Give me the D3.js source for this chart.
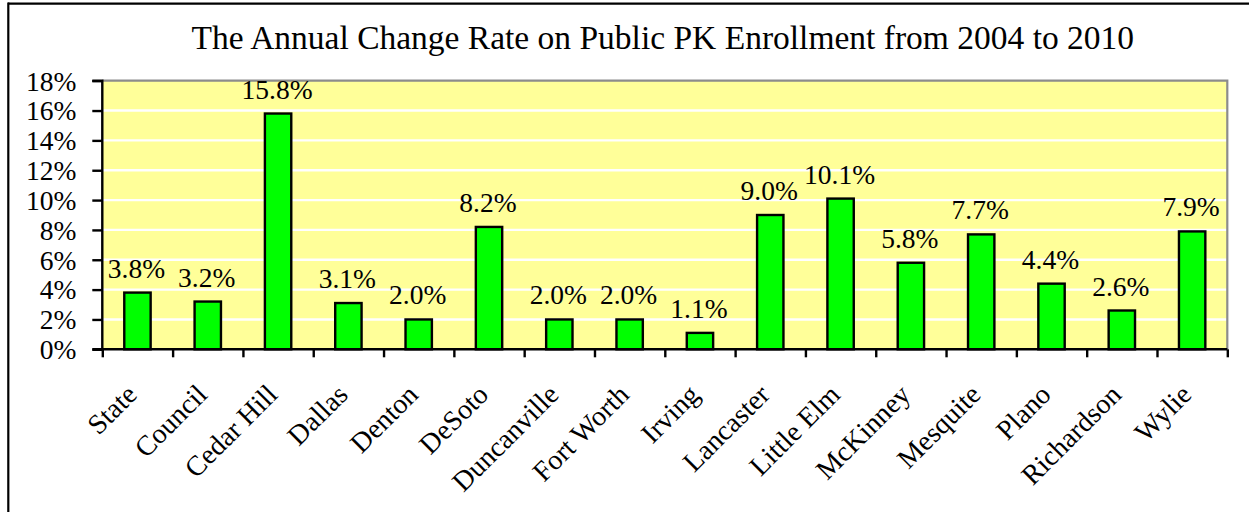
<!DOCTYPE html>
<html>
<head>
<meta charset="utf-8">
<script src="https://cdn.jsdelivr.net/npm/d3@7"></script>
<style>
  html, body { margin: 0; padding: 0; background: #fff; }
  svg { display: block; }
  text { font-family: "Liberation Serif", "Times New Roman", serif; fill: #000; }
</style>
</head>
<body>
<svg id="chart" width="1249" height="512"></svg>
<script>
const title = "The Annual Change Rate on Public PK Enrollment from 2004 to 2010";
const categories = ["State", "Council", "Cedar Hill", "Dallas", "Denton", "DeSoto", "Duncanville", "Fort Worth", "Irving", "Lancaster", "Little Elm", "McKinney", "Mesquite", "Plano", "Richardson", "Wylie"];
const values = [3.8, 3.2, 15.8, 3.1, 2.0, 8.2, 2.0, 2.0, 1.1, 9.0, 10.1, 5.8, 7.7, 4.4, 2.6, 7.9];
const valueLabels = ["3.8%", "3.2%", "15.8%", "3.1%", "2.0%", "8.2%", "2.0%", "2.0%", "1.1%", "9.0%", "10.1%", "5.8%", "7.7%", "4.4%", "2.6%", "7.9%"];
const yTicks = [0, 2, 4, 6, 8, 10, 12, 14, 16, 18];
const yTickLabels = ["0%", "2%", "4%", "6%", "8%", "10%", "12%", "14%", "16%", "18%"];

const svg = d3.select("#chart");
const W = 1249, H = 512;
const plot = { left: 102.3, right: 1227.3, top: 80.7, bottom: 349.3 };
const FONT = "Liberation Serif";
const LABEL_SIZE = 27.5;

// outer frame (top and left edges visible)
svg.append("line").attr("x1", 8).attr("x2", W).attr("y1", 3.7).attr("y2", 3.7)
  .attr("stroke", "#000").attr("stroke-width", 2.2);
svg.append("line").attr("x1", 8.3).attr("x2", 8.3).attr("y1", 2.6).attr("y2", H)
  .attr("stroke", "#000").attr("stroke-width", 2.2);

const x = d3.scaleBand().domain(categories).range([plot.left, plot.right]).padding(0);
const y = d3.scaleLinear().domain([0, 18]).range([plot.bottom, plot.top]);

// plot background
svg.append("rect")
  .attr("x", plot.left).attr("y", plot.top)
  .attr("width", plot.right - plot.left).attr("height", plot.bottom - plot.top)
  .attr("fill", "#FFFF99");

// gridlines
svg.append("g").selectAll("line")
  .data(yTicks.filter(t => t > 0 && t < 18))
  .join("line")
  .attr("x1", plot.left).attr("x2", plot.right)
  .attr("y1", d => y(d)).attr("y2", d => y(d))
  .attr("stroke", "#fff").attr("stroke-width", 2.4);

// plot border top & right (gray)
svg.append("path")
  .attr("d", `M${plot.left},${plot.top}H${plot.right}V${plot.bottom}`)
  .attr("fill", "none").attr("stroke", "#8c8c8c").attr("stroke-width", 2.2);

// bars
const barW = x.bandwidth() * 0.375;
svg.append("g").selectAll("rect")
  .data(values)
  .join("rect")
  .attr("x", (d, i) => x(categories[i]) + x.bandwidth() / 2 - barW / 2)
  .attr("y", d => y(d))
  .attr("width", barW)
  .attr("height", d => y(0) - y(d))
  .attr("fill", "#00FF00")
  .attr("stroke", "#000")
  .attr("stroke-width", 2.4);

// value labels
svg.append("g").selectAll("text")
  .data(values)
  .join("text")
  .attr("x", (d, i) => x(categories[i]) + x.bandwidth() / 2 - 1)
  .attr("y", d => y(d) - 15)
  .attr("text-anchor", "middle")
  .attr("font-family", FONT)
  .attr("font-size", LABEL_SIZE)
  .text((d, i) => valueLabels[i]);

// y axis
const yAxis = d3.axisLeft(y).tickValues(yTicks)
  .tickFormat((d, i) => yTickLabels[i]).tickSize(10).tickPadding(16);
const gy = svg.append("g").attr("transform", `translate(${plot.left},0)`).call(yAxis);
gy.attr("font-family", FONT);
gy.select(".domain").attr("stroke", "#000").attr("stroke-width", 2.4).attr("d", `M-10,${plot.top}H0V${plot.bottom}H-10`);
gy.selectAll(".tick line").attr("stroke", "#000").attr("stroke-width", 2.4);
gy.selectAll(".tick text").attr("font-size", LABEL_SIZE).attr("font-family", FONT).attr("fill", "#000").attr("dy", "0.34em");

// x axis with ticks at band edges
const xEdge = d3.scaleLinear().domain([0, categories.length]).range([plot.left, plot.right]);
const xAxis = d3.axisBottom(xEdge).tickValues(d3.range(categories.length + 1)).tickSize(8).tickFormat("");
const gx = svg.append("g").attr("transform", `translate(0,${plot.bottom})`).call(xAxis);
gx.select(".domain").attr("stroke", "#000").attr("stroke-width", 2.4).attr("d", `M${plot.left},0H${plot.right}`);
gx.selectAll(".tick line").attr("stroke", "#000").attr("stroke-width", 2.4);

// category labels
svg.append("g").selectAll("text")
  .data(categories)
  .join("text")
  .attr("transform", d => `translate(${x(d) + x.bandwidth() / 2 + 1},${plot.bottom + 47}) rotate(-45)`)
  .attr("text-anchor", "end")
  .attr("font-family", FONT)
  .attr("font-size", 28)
  .text(d => d);

// title
svg.append("text")
  .attr("x", (plot.left + plot.right) / 2 - 2)
  .attr("y", 49.3)
  .attr("text-anchor", "middle")
  .attr("font-family", FONT)
  .attr("font-size", 33.5)
  .text(title);
</script>
</body>
</html>
